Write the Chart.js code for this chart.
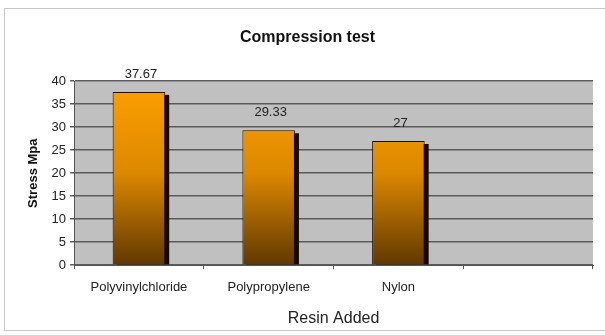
<!DOCTYPE html>
<html>
<head>
<meta charset="utf-8">
<script src="https://cdn.jsdelivr.net/npm/chart.js@4"></script>
<style>
  body { margin: 0; background: #fff; }
  #wrap { position: relative; width: 605px; height: 335px; overflow: hidden; }
  #frame { position: absolute; left: 4px; top: 8px; width: 640px; height: 323px; border: 1px solid #c8c8c8; box-sizing: border-box; }
  canvas { position: absolute; left: 0; top: 0; }
</style>
</head>
<body>
<div id="wrap">
  <div id="frame"></div>
  <canvas id="stress-chart" width="605" height="335"></canvas>
</div>
<script>
var resins = ["Polyvinylchloride", "Polypropylene", "Nylon", ""];
var stress = [37.67, 29.33, 27, null];
var stressLabels = ["37.67", "29.33", "27", ""];

// grey plot area like the old excel chart
var plotBackground = {
  id: 'plotBackground',
  beforeDraw: function(chart) {
    var a = chart.chartArea, c = chart.ctx;
    c.save();
    c.fillStyle = '#c0c0c0';
    c.fillRect(a.left, a.top, a.right - a.left, a.bottom - a.top);
    c.restore();
  }
};

// hard shadow on the right side of the bars
var barShadow = {
  id: 'barShadow',
  beforeDatasetsDraw: function(chart) {
    var c = chart.ctx;
    var meta = chart.getDatasetMeta(0);
    c.save();
    c.fillStyle = '#140a00';
    meta.data.forEach(function(bar, i) {
      if (stress[i] == null) return;
      var p = bar.getProps(['x', 'y', 'base', 'width'], true);
      c.fillRect(p.x - p.width / 2 + 4, p.y + 3, p.width, p.base - p.y - 3);
    });
    c.restore();
  }
};

var valueLabels = {
  id: 'valueLabels',
  afterDatasetsDraw: function(chart) {
    var c = chart.ctx;
    var meta = chart.getDatasetMeta(0);
    c.save();
    c.font = '13px "Liberation Sans", Arial';
    c.fillStyle = '#222';
    c.textAlign = 'center';
    c.textBaseline = 'bottom';
    meta.data.forEach(function(bar, i) {
      if (stress[i] == null) return;
      c.fillText(stressLabels[i], bar.x + 2, bar.y - 11);
    });
    c.restore();
  }
};

var ctx = document.getElementById("stress-chart");
window.myBar = new Chart(ctx, {
  type: 'bar',
  data: {
    labels: resins,
    datasets: [{
      data: stress,
      backgroundColor: function(context) {
        var area = context.chart.chartArea;
        if (!area) return '#ff9900';
        var g = context.chart.ctx.createLinearGradient(0, area.top, 0, area.bottom);
        g.addColorStop(0, '#ffa000');
        g.addColorStop(0.5, '#dc8800');
        g.addColorStop(1, '#603800');
        return g;
      },
      borderColor: '#1a0d00',
      borderWidth: 1,
      categoryPercentage: 1,
      barPercentage: 0.405
    }]
  },
  options: {
    responsive: false,
    animation: false,
    layout: { padding: { left: 22, right: 12, top: 6, bottom: 3 } },
    plugins: {
      legend: { display: false },
      tooltip: { enabled: false },
      title: {
        display: true,
        text: 'Compression test',
        color: '#111',
        font: { family: '"Liberation Sans", Arial', size: 16, weight: 'bold' },
        padding: { top: 22, bottom: 34 }
      }
    },
    scales: {
      x: {
        grid: { display: true, drawOnChartArea: false, offset: true, color: '#555', tickLength: 4 },
        border: { color: '#555' },
        ticks: {
          color: '#222',
          padding: 10,
          font: { family: '"Liberation Sans", Arial', size: 13 }
        },
        title: {
          display: true,
          text: 'Resin Added',
          color: '#222',
          font: { family: '"Liberation Sans", Arial', size: 16 },
          padding: { top: 4 }
        }
      },
      y: {
        min: 0,
        max: 40,
        grid: { color: '#5a5a5a', lineWidth: 1.5, tickLength: 4 },
        border: { color: '#555' },
        ticks: {
          stepSize: 5,
          color: '#222',
          padding: 4,
          font: { family: '"Liberation Sans", Arial', size: 13 }
        },
        title: {
          display: true,
          text: 'Stress Mpa',
          color: '#111',
          font: { family: '"Liberation Sans", Arial', size: 13, weight: 'bold' },
          padding: { bottom: 6 }
        }
      }
    }
  },
  plugins: [plotBackground, barShadow, valueLabels]
});
</script>
</body>
</html>
